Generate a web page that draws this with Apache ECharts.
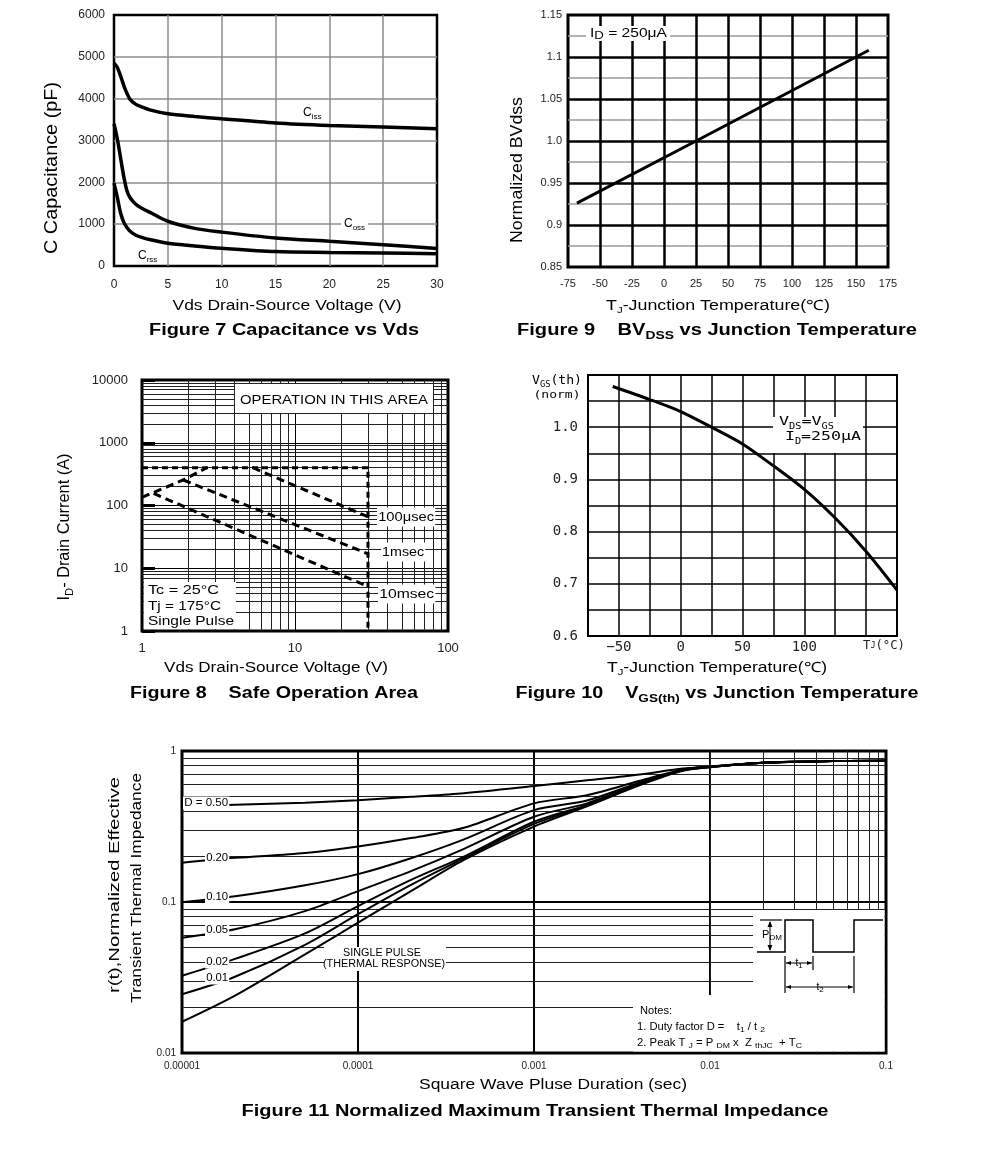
<!DOCTYPE html>
<html><head><meta charset="utf-8">
<script src="https://cdn.jsdelivr.net/npm/echarts@6/dist/echarts.min.js"></script>
<style>html,body{margin:0;padding:0;background:#fff}#c{width:991px;height:1155px}</style>
</head><body><div id="c"></div>
<script>
// ---------- Figure 7: Capacitance vs Vds ----------
const cissV = [0, 0.3, 0.6, 1, 1.5, 2, 2.5, 3.5, 5, 7.5, 10, 15, 20, 25, 30];
const cissC = [4850, 4750, 4550, 4250, 3980, 3870, 3810, 3720, 3640, 3575, 3520, 3420, 3360, 3320, 3280];
const cossV = [0, 0.3, 0.6, 0.9, 1.2, 1.5, 2, 2.5, 3.5, 5, 7.5, 10, 15, 20, 25, 30];
const cossC = [3400, 3050, 2600, 2150, 1800, 1630, 1480, 1390, 1260, 1070, 900, 810, 670, 590, 510, 420];
const crssC = [1980, 1650, 1280, 1050, 920, 830, 740, 690, 620, 545, 480, 425, 345, 325, 310, 295];

// ---------- Figure 9: BVdss vs Tj ----------
const bvT = [-68, 25, 150, 160];
const bvN = [0.926, 1.0, 1.1, 1.108];
const bvYLabels = ['0.85', '0.9', '0.95', '1.0', '1.05', '1.1', '1.15'];

// ---------- Figure 8: Safe operating area ----------
const limV = [1, 30, 30];      const limI = [400, 400, 1];
const rdsV = [1, 1.86, 2.65];  const rdsI = [135, 255, 400];
const us100V = [5.3, 30];      const us100I = [400, 66];
const ms1V = [1.86, 30];       const ms1I = [255, 17];
const ms10V = [1.19, 30];      const ms10I = [156, 5.1];
const soaXLabels = ['1', '10', '100'];
const soaYLabels = ['1', '10', '100', '1000', '10000'];

// ---------- Figure 10: Vgs(th) vs Tj ----------
const vthT = [-55, -25, 0, 25, 50, 75, 100, 125, 150, 175];
const vthN = [1.078, 1.053, 1.03, 1.0, 0.968, 0.926, 0.881, 0.826, 0.762, 0.688];
const vthXLabels = ['', '\u221250', '', '0', '', '50', '', '100', '', '', ''];
const vthYLabels = ['0.6', '', '0.7', '', '0.8', '', '0.9', '', '1.0', '', ''];

// ---------- Figure 11: Transient thermal impedance ----------
const zthT = [1e-5, 2e-5, 5e-5, 1e-4, 2e-4, 4e-4, 1e-3, 2e-3, 4e-3, 7e-3, 1e-2, 2e-2, 5e-2, 1e-1];
const zD50 = [0.43, 0.44, 0.455, 0.472, 0.497, 0.525, 0.586, 0.64, 0.70, 0.765, 0.79, 0.835, 0.858, 0.862];
const zD20 = [0.182, 0.196, 0.211, 0.233, 0.265, 0.31, 0.45, 0.51, 0.635, 0.755, 0.787, 0.835, 0.858, 0.862];
const zD10 = [0.0996, 0.109, 0.129, 0.153, 0.195, 0.26, 0.406, 0.47, 0.62, 0.75, 0.785, 0.835, 0.858, 0.862];
const zD05 = [0.058, 0.066, 0.087, 0.118, 0.16, 0.225, 0.367, 0.45, 0.61, 0.75, 0.785, 0.835, 0.858, 0.862];
const zD02 = [0.0325, 0.042, 0.062, 0.094, 0.14, 0.2, 0.34, 0.44, 0.605, 0.745, 0.783, 0.835, 0.858, 0.862];
const zD01 = [0.0245, 0.032, 0.052, 0.083, 0.13, 0.195, 0.329, 0.435, 0.60, 0.745, 0.783, 0.835, 0.858, 0.862];
const zSgl = [0.0161, 0.024, 0.045, 0.073, 0.118, 0.19, 0.316, 0.43, 0.595, 0.74, 0.78, 0.835, 0.858, 0.862];
const zthXLabels = ['0.00001', '0.0001', '0.001', '0.01', '0.1'];
const zthYLabels = ['0.01', '0.1', '1'];

// ---------- helpers ----------
const zip = (a, b) => a.map((v, i) => [v, b[i]]);
const FF = "'Liberation Sans', Arial, Helvetica, sans-serif";
const MONO = "'DejaVu Sans Mono', 'Liberation Mono', monospace";
const cv = document.createElement('canvas').getContext('2d');
function fontStr(s) { return (s.b ? 'bold ' : '') + s.s + 'px ' + (s.f || FF); }
function T(x, y, segs, opt) {
  opt = opt || {};
  const rich = {}; let str = ''; let w = 0;
  const maxS = Math.max.apply(null, segs.map(s => s.s));
  segs.forEach((s, i) => {
    cv.font = fontStr(s); w += cv.measureText(s.t).width;
    const k = 'k' + i;
    rich[k] = { fontSize: s.s, fontFamily: s.f || FF, fontWeight: s.b ? 'bold' : 'normal',
      fill: opt.color || '#000', lineHeight: Math.round(maxS * 1.3),
      verticalAlign: s.sub ? 'bottom' : 'middle' };
    str += '{' + k + '|' + s.t + '}';
  });
  const sc = opt.w ? opt.w / w : (opt.sc || 1);
  const el = { type: 'text', x: x, y: y, rotation: opt.rot || 0, scaleX: sc, z: opt.z || 110, silent: true,
    style: { text: str, rich: rich, align: opt.align || 'center', verticalAlign: 'middle' } };
  if (opt.bg) { el.style.backgroundColor = opt.bg; el.style.padding = opt.pad || [0, 2]; }
  return el;
}
function rect(x, y, w, h) { return { type: 'rect', z: 105, silent: true, shape: { x: x, y: y, width: w, height: h }, style: { fill: '#fff' } }; }
function ln(x1, y1, x2, y2, lw) { return { type: 'line', z: 112, silent: true, shape: { x1: x1, y1: y1, x2: x2, y2: y2 }, style: { stroke: '#000', lineWidth: lw || 1 } }; }
function tri(pts) { return { type: 'polygon', z: 112, silent: true, shape: { points: pts }, style: { fill: '#000' } }; }
const s = (t, sz, extra) => Object.assign({ t: t, s: sz }, extra || {});

function logLabel(list, minExp) { return v => list[Math.round(Math.log10(v)) - minExp] || ''; }
function idxLabel(list, min, step) { return v => list[Math.round((v - min) / step)] || ''; }

function gridLines(vert, horiz, color, width) {
  return {
    silent: true, symbol: ['none', 'none'], animation: false, label: { show: false },
    lineStyle: { type: 'solid', color: color, width: width },
    emphasis: { disabled: true },
    data: vert.map(v => ({ xAxis: v })).concat(horiz.map(v => ({ yAxis: v })))
  };
}
const mult = [2, 3, 4, 5, 6, 7, 8, 9];
const decadesOf = bases => { const r = []; bases.forEach(b => mult.forEach(m => r.push(m * b))); return r; };

const baseGrid = { show: true, borderColor: '#000', containLabel: false, outerBoundsMode: 'none', backgroundColor: 'transparent' };
const noLine = { show: false };
const lbl = (extra) => Object.assign({ color: '#222', fontFamily: FF, showMinLabel: true, showMaxLabel: true }, extra);
const split = (color, width) => ({ show: true, showMinLine: false, showMaxLine: false, lineStyle: { color: color, width: width, type: 'solid' } });

const blackLine = (w) => ({ color: '#000', width: w, type: 'solid' });
function lineSeries(xi, data, w, extra) {
  return Object.assign({ type: 'line', xAxisIndex: xi, yAxisIndex: xi, data: data, symbol: 'none', silent: true,
    lineStyle: blackLine(w), itemStyle: { color: '#000' }, animation: false, z: 5 }, extra || {});
}
const smooth = { smooth: 0.3 };

const option = {
  animation: false,
  backgroundColor: '#fff',
  grid: [
    Object.assign({ left: 114, top: 15, width: 323, height: 251, borderWidth: 2.5 }, baseGrid),
    Object.assign({ left: 568, top: 15, width: 320, height: 252, borderWidth: 3 }, baseGrid),
    Object.assign({ left: 142, top: 380, width: 306, height: 251, borderWidth: 3 }, baseGrid),
    Object.assign({ left: 588, top: 375, width: 309, height: 261, borderWidth: 2 }, baseGrid),
    Object.assign({ left: 182, top: 751, width: 704, height: 302, borderWidth: 3 }, baseGrid)
  ],
  xAxis: [
    { gridIndex: 0, type: 'value', min: 0, max: 30, interval: 5, axisLine: noLine, axisTick: noLine,
      axisLabel: lbl({ fontSize: 12, margin: 13, formatter: v => String(v) }), splitLine: split('#8c8c8c', 1.5) },
    { gridIndex: 1, type: 'value', min: -75, max: 175, interval: 25, axisLine: noLine, axisTick: noLine,
      axisLabel: lbl({ fontSize: 11, margin: 11, formatter: v => String(v) }), splitLine: split('#000', 2.5) },
    { gridIndex: 2, type: 'log', logBase: 10, min: 1, max: 100, axisLine: noLine, axisTick: noLine,
      axisLabel: lbl({ fontSize: 13, margin: 11, formatter: logLabel(soaXLabels, 0) }), splitLine: split('#000', 1) },
    { gridIndex: 3, type: 'value', min: -75, max: 175, interval: 25, axisLine: noLine, axisTick: noLine,
      axisLabel: lbl({ fontSize: 14, fontFamily: MONO, margin: 4, formatter: idxLabel(vthXLabels, -75, 25) }),
      splitLine: split('#000', 1.5) },
    { gridIndex: 4, type: 'log', logBase: 10, min: 0.00001, max: 0.1, axisLine: noLine, axisTick: noLine,
      axisLabel: lbl({ fontSize: 10, margin: 8, formatter: logLabel(zthXLabels, -5) }), splitLine: split('#000', 2) }
  ],
  yAxis: [
    { gridIndex: 0, type: 'value', min: 0, max: 6000, interval: 1000, axisLine: noLine, axisTick: noLine,
      axisLabel: lbl({ fontSize: 12, margin: 9, formatter: v => String(v) }), splitLine: split('#8c8c8c', 1.5) },
    { gridIndex: 1, type: 'value', min: 0.85, max: 1.15, interval: 0.05, axisLine: noLine, axisTick: noLine,
      axisLabel: lbl({ fontSize: 11, margin: 6, formatter: idxLabel(bvYLabels, 0.85, 0.05) }),
      splitLine: split('#000', 2.5),
      minorTick: { show: false, splitNumber: 2 },
      minorSplitLine: { show: true, lineStyle: { color: '#9a9a9a', width: 1.5 } } },
    { gridIndex: 2, type: 'log', logBase: 10, min: 1, max: 10000, axisLine: noLine,
      axisTick: { show: true, inside: true, length: 13, lineStyle: { color: '#000', width: 3 } },
      axisLabel: lbl({ fontSize: 13, margin: 14, formatter: logLabel(soaYLabels, 0) }), splitLine: split('#000', 1) },
    { gridIndex: 3, type: 'value', min: 0.6, max: 1.1, interval: 0.05, axisLine: noLine, axisTick: noLine,
      axisLabel: lbl({ fontSize: 14, fontFamily: MONO, margin: 10, formatter: idxLabel(vthYLabels, 0.6, 0.05) }),
      splitLine: split('#000', 1.5) },
    { gridIndex: 4, type: 'log', logBase: 10, min: 0.01, max: 1, axisLine: noLine, axisTick: noLine,
      axisLabel: lbl({ fontSize: 10, margin: 6, formatter: logLabel(zthYLabels, -2) }), splitLine: split('#000', 2) }
  ],
  series: [
    // Fig 7
    lineSeries(0, zip(cissV, cissC), 3.5, smooth),
    lineSeries(0, zip(cossV, cossC), 3.5, smooth),
    lineSeries(0, zip(cossV, crssC), 3.5, smooth),
    // Fig 9
    lineSeries(1, zip(bvT, bvN), 3),
    // Fig 8 grid lines + dashed limits
    lineSeries(2, [], 1, { z: 1, markLine: gridLines(decadesOf([1, 10]), decadesOf([1, 10, 100, 1000]), '#222', 1) }),
    lineSeries(2, zip(limV, limI), 3, { lineStyle: { color: '#000', width: 3, type: [6, 4] } }),
    lineSeries(2, zip(rdsV, rdsI), 3, { lineStyle: { color: '#000', width: 3, type: [8, 5] } }),
    lineSeries(2, zip(us100V, us100I), 3, { lineStyle: { color: '#000', width: 3, type: [8, 5] } }),
    lineSeries(2, zip(ms1V, ms1I), 3, { lineStyle: { color: '#000', width: 3, type: [8, 5] } }),
    lineSeries(2, zip(ms10V, ms10I), 3, { lineStyle: { color: '#000', width: 3, type: [8, 5] } }),
    // Fig 10
    lineSeries(3, zip(vthT, vthN), 3, smooth),
    // Fig 11 grid lines + curves
    lineSeries(4, [], 1, { z: 1, markLine: gridLines(decadesOf([1e-5, 1e-4, 1e-3, 1e-2]), decadesOf([0.01, 0.1]), '#222', 1) }),
    lineSeries(4, zip(zthT, zD50), 2, smooth),
    lineSeries(4, zip(zthT, zD20), 2, smooth),
    lineSeries(4, zip(zthT, zD10), 2, smooth),
    lineSeries(4, zip(zthT, zD05), 2, smooth),
    lineSeries(4, zip(zthT, zD02), 2, smooth),
    lineSeries(4, zip(zthT, zD01), 2, smooth),
    lineSeries(4, zip(zthT, zSgl), 2, smooth)
  ],
  graphic: { elements: [] }
};

const G = option.graphic.elements;
const PI2 = Math.PI / 2;
// ---- Fig 7 texts ----
G.push(T(303, 113, [s('C', 12), s('iss', 8, { sub: 1 })], { align: 'left' }));
G.push(T(341, 224, [s('C', 12), s('oss', 8, { sub: 1 })], { align: 'left', bg: '#fff', pad: [1, 3] }));
G.push(T(138, 256, [s('C', 12), s('rss', 8, { sub: 1 })], { align: 'left' }));
G.push(T(287, 306, [s('Vds Drain-Source Voltage (V)', 14)], { w: 229 }));
G.push(T(52, 168, [s('C Capacitance (pF)', 18)], { w: 172, rot: PI2 }));
G.push(T(284, 331, [s('Figure 7 Capacitance vs Vds', 16, { b: 1 })], { w: 270 }));
// ---- Fig 9 texts ----
G.push(rect(586, 26, 84, 15));
G.push(T(590, 33, [s('I', 13), s('D', 11, { sub: 1 }), s(' = 250\u03bcA', 13)], { align: 'left', w: 77 }));
G.push(T(517, 170, [s('Normalized BVdss', 17)], { w: 146, rot: PI2 }));
G.push(T(718, 306, [s('T', 14), s('J', 9, { sub: 1 }), s('-Junction Temperature(\u2103)', 14)], { w: 224 }));
G.push(T(717, 331, [s('Figure 9    BV', 16, { b: 1 }), s('DSS', 11, { b: 1, sub: 1 }), s(' vs Junction Temperature', 16, { b: 1 })], { w: 400 }));
// ---- Fig 8 texts ----
G.push(rect(235, 384, 198, 29));
G.push(T(334, 400, [s('OPERATION IN THIS AREA', 13)], { w: 188 }));
G.push(T(377, 517, [s('100\u03bcsec', 13)], { align: 'left', w: 56, bg: '#fff', pad: [1, 1] }));
G.push(T(381, 552, [s('1msec', 13)], { align: 'left', w: 42, bg: '#fff', pad: [1, 1] }));
G.push(T(378, 594, [s('10msec', 13)], { align: 'left', w: 55, bg: '#fff', pad: [1, 1] }));
G.push(rect(144, 582, 92, 47));
G.push(T(148, 590, [s('Tc = 25\u00b0C', 13)], { align: 'left', w: 71 }));
G.push(T(148, 606, [s('Tj = 175\u00b0C', 13)], { align: 'left', w: 73 }));
G.push(T(148, 621, [s('Single Pulse', 13)], { align: 'left', w: 86 }));
G.push(T(65, 527, [s('I', 16), s('D', 11, { sub: 1 }), s('- Drain Current (A)', 16)], { w: 147, rot: PI2 }));
G.push(T(276, 668, [s('Vds Drain-Source Voltage (V)', 14)], { w: 224 }));
G.push(T(274, 694, [s('Figure 8    Safe Operation Area', 16, { b: 1 })], { w: 288 }));
// ---- Fig 10 texts ----
G.push(T(557, 381, [s('V', 12, { f: MONO }), s('GS', 8, { f: MONO, sub: 1 }), s('(th)', 12, { f: MONO })], { w: 50 }));
G.push(T(557, 395, [s('(norm)', 11, { f: MONO })], { w: 47 }));
G.push(rect(773, 417, 90, 36));
G.push(T(779, 422, [s('V', 13, { f: MONO }), s('DS', 8, { f: MONO, sub: 1 }), s('=V', 13, { f: MONO }), s('GS', 8, { f: MONO, sub: 1 })], { align: 'left', w: 55 }));
G.push(T(785, 437, [s('I', 13, { f: MONO }), s('D', 8, { f: MONO, sub: 1 }), s('=250\u03bcA', 13, { f: MONO })], { align: 'left', w: 76 }));
G.push(T(884, 646, [s('T', 13, { f: MONO }), s('J', 9, { f: MONO }), s('(\u00b0C)', 13, { f: MONO })], { w: 42, color: '#222' }));
G.push(T(717, 668, [s('T', 14), s('J', 9, { sub: 1 }), s('-Junction Temperature(\u2103)', 14)], { w: 220 }));
G.push(T(717, 694, [s('Figure 10    V', 16, { b: 1 }), s('GS(th)', 11, { b: 1, sub: 1 }), s(' vs Junction Temperature', 16, { b: 1 })], { w: 403 }));
// ---- Fig 11 texts ----
const dl = (x, y, t, w) => T(x, y, [s(t, 10)], { align: 'left', w: w, bg: '#fff', pad: [0, 1] });
G.push(dl(183, 803, 'D = 0.50', 44));
G.push(dl(205, 858, '0.20', 22));
G.push(dl(205, 897, '0.10', 22));
G.push(dl(205, 930, '0.05', 22));
G.push(dl(205, 962, '0.02', 22));
G.push(dl(205, 978, '0.01', 22));
G.push(rect(324, 947, 122, 24));
G.push(T(382, 953, [s('SINGLE PULSE', 10)], { w: 78 }));
G.push(T(384, 964, [s('(THERMAL RESPONSE)', 10)], { w: 122 }));
G.push(rect(753, 910, 131.5, 86));
G.push(rect(633, 995, 251.5, 56.5));
// pulse diagram
G.push({ type: 'polyline', z: 112, silent: true, shape: { points: [[757, 952], [785, 952], [785, 920], [813, 920], [813, 952], [854, 952], [854, 920], [883, 920]] }, style: { stroke: '#000', lineWidth: 1.5, fill: null } });
G.push(ln(760, 920, 782, 920, 1.2));
G.push(ln(770, 922, 770, 950, 1));
G.push(tri([[770, 921], [767.5, 927], [772.5, 927]]));
G.push(tri([[770, 951], [767.5, 945], [772.5, 945]]));
G.push(T(772, 935, [s('P', 11), s('DM', 8, { sub: 1 })], { bg: '#fff', pad: [0, 1] }));
G.push(ln(785, 956, 785, 993, 1.2));
G.push(ln(813, 956, 813, 970, 1.2));
G.push(ln(854, 956, 854, 993, 1.2));
G.push(ln(786, 963, 812, 963, 1));
G.push(tri([[786, 963], [791, 961], [791, 965]]));
G.push(tri([[812, 963], [807, 961], [807, 965]]));
G.push(T(799, 963, [s('t', 10), s('1', 8, { sub: 1 })], { bg: '#fff', pad: [0, 1] }));
G.push(ln(786, 987, 853, 987, 1));
G.push(tri([[786, 987], [791, 985], [791, 989]]));
G.push(tri([[853, 987], [848, 985], [848, 989]]));
G.push(T(820, 987, [s('t', 10), s('2', 8, { sub: 1 })], { bg: '#fff', pad: [0, 1] }));
G.push(T(640, 1011, [s('Notes:', 10.5)], { align: 'left', w: 32 }));
G.push(T(637, 1027, [s('1. Duty factor D =    t', 10.5), s('1', 8, { sub: 1 }), s(' / t ', 10.5), s('2', 8, { sub: 1 })], { align: 'left', w: 128 }));
G.push(T(637, 1043, [s('2. Peak T ', 10.5), s('J', 8, { sub: 1 }), s(' = P ', 10.5), s('DM', 8, { sub: 1 }), s(' x  Z ', 10.5), s('thJC', 8, { sub: 1 }), s('  + T', 10.5), s('C', 8, { sub: 1 })], { align: 'left', w: 165 }));
G.push(T(553, 1085, [s('Square Wave Pluse Duration (sec)', 14)], { w: 268 }));
G.push(T(115, 885, [s('r(t),Normalized Effective', 15)], { w: 216, rot: PI2 }));
G.push(T(137, 888, [s('Transient Thermal Impedance', 15)], { w: 230, rot: PI2 }));
G.push(T(535, 1112, [s('Figure 11 Normalized Maximum Transient Thermal Impedance', 16, { b: 1 })], { w: 587 }));

const chart = echarts.init(document.getElementById('c'), null, { renderer: 'canvas' });
chart.setOption(option);
</script>
</body></html>
